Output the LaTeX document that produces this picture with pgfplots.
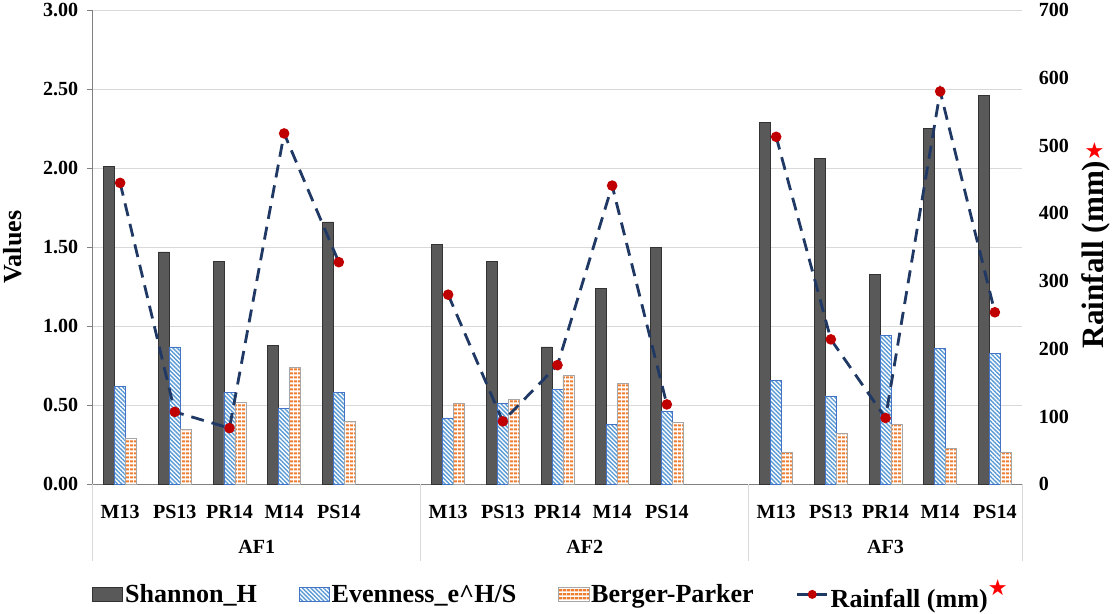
\documentclass[border=0pt]{standalone}
\usepackage{fontspec}
\setmainfont{Liberation Serif}
\newfontfamily\symfont{DejaVu Sans}
\usepackage{pgfplots}
\usepackage{pgfplotstable}
\pgfplotsset{compat=1.18}
\usetikzlibrary{patterns.meta}

\definecolor{shan}{HTML}{595959}
\definecolor{evenc}{HTML}{5B9BD5}
\definecolor{evend}{HTML}{4472C4}
\definecolor{bergc}{HTML}{ED7D31}
\definecolor{rainc}{HTML}{1F3864}
\definecolor{dotc}{HTML}{C00000}

% x: 0-4 AF1, 6-10 AF2, 12-16 AF3
\pgfplotstableread{
x shannon even berger
0  2.01 0.62 0.29
1  1.47 0.87 0.35
2  1.41 0.58 0.52
3  0.88 0.48 0.74
4  1.66 0.58 0.40
6  1.52 0.42 0.51
7  1.41 0.51 0.54
8  0.87 0.60 0.69
9  1.24 0.38 0.64
10 1.50 0.46 0.39
12 2.29 0.66 0.20
13 2.06 0.56 0.32
14 1.33 0.94 0.38
15 2.25 0.86 0.23
16 2.46 0.83 0.20
}\bars

\pgfplotstableread{
x rain
0  445
1  107
2  83
3  518
4  328
5  nan
6  280
7  93
8  176
9  441
10 118
11 nan
12 513
13 214
14 98
15 580
16 254
}\rain

\pgfplotsset{
  shanstyle/.style={fill=shan, draw=black!80, line width=0.6pt},
  evenstyle/.style={fill=white, draw=evend, line width=0.6pt,
    postaction={pattern={Lines[angle=-45,distance=3pt,line width=1.4pt]}, pattern color=evenc}},
  bergstyle/.style={fill=white, draw=black!35, line width=0.6pt,
    postaction={pattern={Lines[angle=0,distance=4pt,line width=2.5pt]}, pattern color=bergc}},
  rainstyle/.style={color=rainc, line width=2.8pt, dash pattern=on 13pt off 8pt,
    mark=*, mark size=3.8pt, mark options={solid, fill=dotc, draw=dotc}},
  boxleg/.style={legend image code/.code={\draw[##1] (0pt,-7pt) rectangle (30pt,7pt);}},
  lineleg/.style={legend image code/.code={%
    \draw[##1, dash pattern=on 12pt off 7pt, mark size=3pt, mark repeat=2, mark phase=2]
      plot coordinates {(0pt,0pt) (15pt,0pt) (30pt,0pt)};}},
  common/.style={scale only axis, width=927pt, height=473pt,
    xmin=-0.5, xmax=16.5, clip=false},
}

\begin{document}
\begin{tikzpicture}
\begin{axis}[
  common, name=main,
  ymin=0, ymax=3,
  ybar=0pt, bar width=0.2,
  axis y line*=left, axis x line*=bottom,
  axis line style={draw=black!50, line width=0.8pt},
  ytick={0,0.5,1,1.5,2,2.5,3},
  yticklabel style={font=\fontsize{20}{24}\selectfont\bfseries, xshift=-5pt,
    /pgf/number format/.cd, fixed, fixed zerofill, precision=2, assume math mode=true},
  ymajorgrids, grid style={draw=black!15, line width=0.8pt},
  tick align=outside, major tick length=6pt,
  ytick style={draw=black!50, line width=0.8pt},
  xtick={0,1,2,3,4,6,7,8,9,10,12,13,14,15,16},
  xticklabels={M13,PS13,PR14,M14,PS14,M13,PS13,PR14,M14,PS14,M13,PS13,PR14,M14,PS14},
  xtick style={draw=none},
  xticklabel style={font=\fontsize{20}{24}\selectfont\bfseries, yshift=-11pt},
  ylabel={Values},
  every axis y label/.style={at={(axis description cs:-0.0863,0.5)}, rotate=90,
    anchor=center, font=\fontsize{26}{30}\selectfont\bfseries},
]
\addplot[shanstyle] table[x=x, y=shannon] {\bars};
\addplot[evenstyle] table[x=x, y=even] {\bars};
\addplot[bergstyle] table[x=x, y=berger] {\bars};

\draw[black!15, line width=0.8pt] (axis cs:-0.5,0) -- ++(0pt,-76pt);
\draw[black!15, line width=0.8pt] (axis cs:5.5,0) -- ++(0pt,-76pt);
\draw[black!15, line width=0.8pt] (axis cs:11.5,0) -- ++(0pt,-76pt);
\draw[black!15, line width=0.8pt] (axis cs:16.5,0) -- ++(0pt,-76pt);
\node[font=\fontsize{20}{24}\selectfont\bfseries] at (axis cs:2.5,0) [yshift=-62pt] {AF1};
\node[font=\fontsize{20}{24}\selectfont\bfseries] at (axis cs:8.5,0) [yshift=-62pt] {AF2};
\node[font=\fontsize{20}{24}\selectfont\bfseries] at (axis cs:14,0) [yshift=-62pt] {AF3};
\end{axis}

\begin{axis}[
  common,
  ymin=0, ymax=700,
  axis y line*=right, axis x line=none,
  y axis line style={draw=none},
  ytick={0,100,200,300,400,500,600,700},
  major tick length=0pt,
  yticklabel style={font=\fontsize{20}{24}\selectfont\bfseries, xshift=13pt,
    /pgf/number format/assume math mode=true},
  ylabel={Rainfall (mm)},
  every axis y label/.style={at={(axis description cs:1.0788,0.485)}, rotate=90,
    anchor=center, font=\fontsize{31}{34}\selectfont\bfseries},
  unbounded coords=jump,
  legend style={at={(axis description cs:0.493,-0.232)}, anchor=center,
    draw=none, fill=none, legend columns=4,
    font=\fontsize{26}{30}\selectfont\bfseries,
    /tikz/every even column/.append style={column sep=40pt}},
  legend cell align=left,
]
\addlegendimage{shanstyle, boxleg}
\addlegendentry{Shannon\_H}
\addlegendimage{evenstyle, boxleg}
\addlegendentry{Evenness\_e\textasciicircum H/S}
\addlegendimage{bergstyle, boxleg}
\addlegendentry{Berger-Parker}
\addplot[rainstyle, lineleg] table[x=x, y=rain] {\rain};
\addlegendentry{Rainfall (mm)\raisebox{12pt}{\symfont\fontsize{22}{22}\selectfont\color{red}★}}

\node[font=\symfont\fontsize{22}{22}\selectfont, text=red] at (axis description cs:1.0777,0.703) {★};
\end{axis}
\end{tikzpicture}
\end{document}
